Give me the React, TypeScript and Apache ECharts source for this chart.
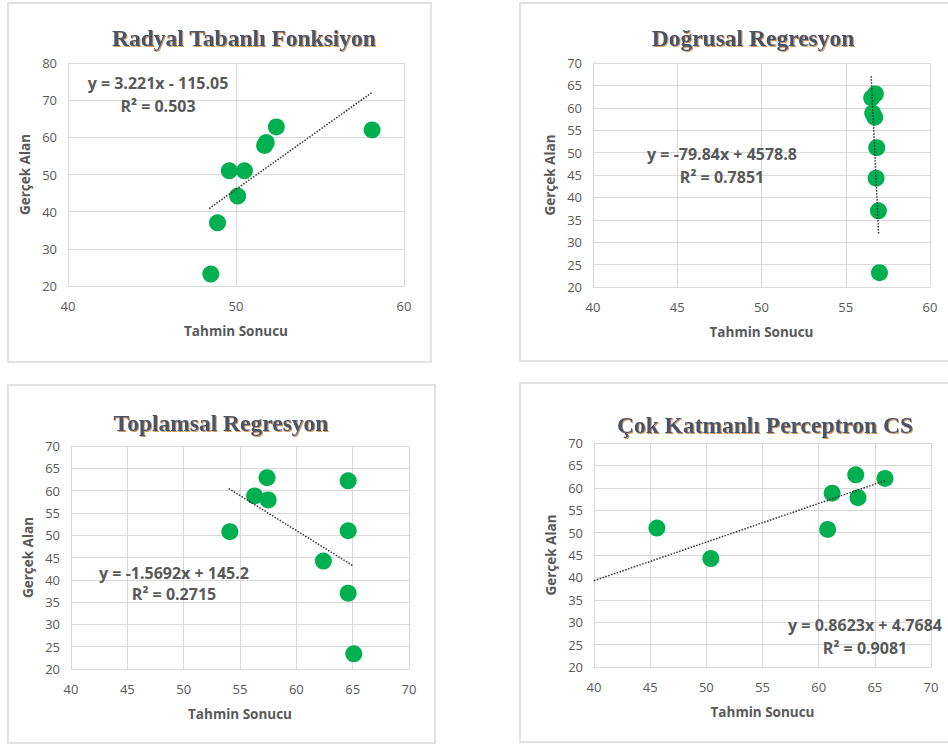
import React, { useEffect, useRef } from "react";
import * as echarts from "echarts";

// ---- Data ----
const panelTitles = [
  "Radyal Tabanlı Fonksiyon",
  "Doğrusal Regresyon",
  "Toplamsal Regresyon",
  "Çok Katmanlı Perceptron CS",
];

const xAxisName = "Tahmin Sonucu";
const yAxisName = "Gerçek Alan";

// Radyal Tabanlı Fonksiyon
const rbfPred = [48.5, 48.9, 49.6, 50.5, 50.1, 51.7, 51.8, 52.4, 58.1];
const rbfActual = [23.2, 37.0, 51.0, 51.0, 44.2, 57.8, 58.6, 62.8, 62.0];

// Doğrusal Regresyon
const lrPred = [56.54, 56.76, 56.6, 56.72, 56.84, 56.8, 56.94, 57.0];
const lrActual = [62.2, 63.1, 58.8, 57.9, 51.1, 44.3, 37.0, 23.2];

// Toplamsal Regresyon
const arPred = [57.4, 56.3, 57.5, 54.1, 64.6, 64.6, 62.4, 64.6, 65.1];
const arActual = [62.9, 58.8, 57.9, 50.8, 62.2, 51.0, 44.2, 37.0, 23.4];

// Çok Katmanlı Perceptron CS
const mlpPred = [63.3, 65.9, 61.2, 63.5, 60.8, 45.6, 50.4];
const mlpActual = [62.9, 62.1, 58.8, 57.8, 50.7, 51.0, 44.2];

// Trend lines (slope, intercept, x range) and their labels
const trendSlopes = [3.221, -79.84, -1.5692, 0.8623];
const trendIntercepts = [-115.05, 4578.8, 145.2, 4.7684];
const trendXStart = [48.4, 56.51, 54.0, 40.0];
const trendXEnd = [58.1, 56.95, 65.0, 65.9];
const equationTexts = [
  "y = 3.221x - 115.05",
  "y = -79.84x + 4578.8",
  "y = -1.5692x + 145.2",
  "y = 0.8623x + 4.7684",
];
const r2Texts = ["R² = 0.503", "R² = 0.7851", "R² = 0.2715", "R² = 0.9081"];

// Axis scales
const xMins = [40, 40, 40, 40];
const xMaxs = [60, 60, 70, 70];
const xIntervals = [10, 5, 5, 5];
const yMins = [20, 20, 20, 20];
const yMaxs = [80, 70, 70, 70];
const yIntervals = [10, 5, 5, 5];

const predSets = [rbfPred, lrPred, arPred, mlpPred];
const actualSets = [rbfActual, lrActual, arActual, mlpActual];

// ---- Layout ----
const grids = [
  { left: 68, top: 63, width: 336, height: 223 },
  { left: 593, top: 63, width: 337, height: 224 },
  { left: 71, top: 446, width: 338, height: 223 },
  { left: 594, top: 443, width: 337, height: 224 },
];
const frames = [
  { x: 8, y: 3, width: 423, height: 359 },
  { x: 520, y: 3, width: 440, height: 358 },
  { x: 8, y: 385, width: 427, height: 358 },
  { x: 520, y: 383, width: 440, height: 359 },
];
const titlePos = [
  [244, 38],
  [753, 38],
  [221, 423],
  [765, 425],
];
const eqPos = [
  [158, 83, 106],
  [722, 154, 177],
  [174, 573, 594],
  [865, 625, 648],
];

const GREY = "#595959";
const GRID = "#d9d9d9";
const GREEN = "#00B050";

export default function App() {
  const ref = useRef<HTMLDivElement>(null);

  useEffect(() => {
    if (!ref.current) return;
    const chart = echarts.init(ref.current, undefined, { renderer: "svg" });

    const xAxes = grids.map((_, i) => ({
      type: "value",
      gridIndex: i,
      min: xMins[i],
      max: xMaxs[i],
      interval: xIntervals[i],
      name: xAxisName,
      nameLocation: "middle",
      nameGap: 38,
      nameTextStyle: {
        color: GREY,
        fontFamily: "Open Sans",
        fontWeight: "bold",
        fontSize: 13.5,
      },
      axisLine: { show: true, lineStyle: { color: GRID, width: 1 } },
      axisTick: { show: false },
      axisLabel: {
        color: GREY,
        fontFamily: "Open Sans",
        fontSize: 13,
        margin: 13,
      },
      splitLine: { show: true, lineStyle: { color: GRID, width: 1 } },
    }));

    const yAxes = grids.map((_, i) => ({
      type: "value",
      gridIndex: i,
      min: yMins[i],
      max: yMaxs[i],
      interval: yIntervals[i],
      name: yAxisName,
      nameLocation: "middle",
      nameGap: 36,
      nameTextStyle: {
        color: GREY,
        fontFamily: "Open Sans",
        fontWeight: "bold",
        fontSize: 13.5,
      },
      axisLine: { show: true, lineStyle: { color: GRID, width: 1 } },
      axisTick: { show: false },
      axisLabel: {
        color: GREY,
        fontFamily: "Open Sans",
        fontSize: 13,
        margin: 11,
      },
      splitLine: { show: true, lineStyle: { color: GRID, width: 1 } },
    }));

    const series: any[] = [];
    predSets.forEach((pred, i) => {
      series.push({
        type: "scatter",
        xAxisIndex: i,
        yAxisIndex: i,
        symbol: "circle",
        symbolSize: 17,
        itemStyle: { color: GREEN, opacity: 1 },
        data: pred.map((x, k) => [x, actualSets[i][k]]),
        z: 3,
      });
      const xs = [trendXStart[i], trendXEnd[i]];
      series.push({
        type: "line",
        xAxisIndex: i,
        yAxisIndex: i,
        symbol: "none",
        lineStyle: { color: "#333333", width: 1.5, type: [1.5, 1.5] },
        data: xs.map((x) => [x, trendSlopes[i] * x + trendIntercepts[i]]),
        z: 4,
      });
    });

    const titles = panelTitles.map((t, i) => ({
      text: t,
      left: titlePos[i][0],
      top: titlePos[i][1],
      padding: 0,
      textAlign: "center",
      textVerticalAlign: "middle",
      textStyle: {
        fontFamily: "Liberation Serif",
        fontWeight: "bold",
        fontSize: 23.5,
        color: "#44546A",
        textShadowColor: "rgba(197,120,40,0.75)",
        textShadowOffsetX: 1,
        textShadowOffsetY: 1,
        textShadowBlur: 1,
      },
    }));

    const graphics: any[] = [];
    frames.forEach((f) => {
      graphics.push({
        type: "rect",
        shape: { x: f.x, y: f.y, width: f.width, height: f.height },
        style: { fill: "none", stroke: "#e3e3e3", lineWidth: 2 },
        silent: true,
        z: -1,
      });
    });
    eqPos.forEach((p, i) => {
      graphics.push({
        type: "text",
        x: p[0],
        y: p[1],
        style: {
          text: equationTexts[i],
          fill: GREY,
          font: "bold 16px 'Open Sans'",
          textAlign: "center",
          textVerticalAlign: "middle",
        },
        z: 10,
      });
      graphics.push({
        type: "text",
        x: p[0],
        y: p[2],
        style: {
          text: r2Texts[i],
          fill: GREY,
          font: "bold 16px 'Open Sans'",
          textAlign: "center",
          textVerticalAlign: "middle",
        },
        z: 10,
      });
    });

    chart.setOption({
      animation: false,
      backgroundColor: "#ffffff",
      title: titles,
      grid: grids.map((g) => ({ ...g, containLabel: false })),
      xAxis: xAxes,
      yAxis: yAxes,
      series,
      graphic: graphics,
    });

    return () => chart.dispose();
  }, []);

  return (
    <div
      ref={ref}
      style={{ position: "absolute", left: 0, top: 0, width: 948, height: 745 }}
    />
  );
}
